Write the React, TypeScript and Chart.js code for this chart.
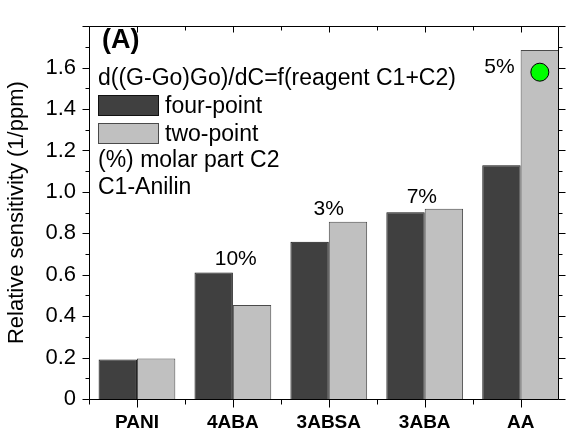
import React, { useEffect, useRef } from 'react';
import { Chart, registerables } from 'chart.js';

Chart.register(...registerables);

// ---- data ----
const categories = ['PANI', '4ABA', '3ABSA', '3ABA', 'AA'];
const categoryPos = [1, 2, 3, 4, 5];
const fourPoint = [0.191, 0.611, 0.759, 0.902, 1.129];
const twoPoint = [0.196, 0.454, 0.856, 0.918, 1.685];
const yTickValues = [0, 0.2, 0.4, 0.6, 0.8, 1.0, 1.2, 1.4, 1.6];
const yMinorValues = [0.1, 0.3, 0.5, 0.7, 0.9, 1.1, 1.3, 1.5, 1.7];
const xMinorValues = [0.5, 1.5, 2.5, 3.5, 4.5];
const pctText = ['10%', '3%', '7%', '5%'];
const pctX = [2.03, 3.0, 3.97, 4.78];
const pctY = [0.674, 0.914, 0.974, 1.601];
const markerX = [5.2];
const markerY = [1.578];
const titleText = '(A)';
const headerText = 'd((G-Go)Go)/dC=f(reagent C1+C2)';
const seriesNames = ['four-point', 'two-point'];
const noteLines = ['(%) molar part C2', 'C1-Anilin'];

const FONT = '"Liberation Sans", Arial, sans-serif';
const DARK = '#404040';
const LIGHT = '#c0c0c0';

const framePlugin = {
  id: 'frameAndText',
  afterDraw(chart: any) {
    const { ctx, chartArea: a, scales } = chart;
    const xs = scales.x;
    const ys = scales.y;
    ctx.save();
    ctx.strokeStyle = '#000';
    ctx.lineWidth = 1;
    const L = Math.round(a.left) + 0.5;
    const R = Math.round(a.right) - 0.5;
    const T = Math.round(a.top) + 0.5;
    const B = Math.round(ys.getPixelForValue(0)) + 0.5;
    ctx.beginPath();
    ctx.moveTo(L, T); ctx.lineTo(R, T); ctx.lineTo(R, B); ctx.lineTo(L, B); ctx.closePath();
    // y ticks
    const yTick = (v: number, len: number) => {
      const p = Math.round(ys.getPixelForValue(v)) + 0.5;
      ctx.moveTo(L, p); ctx.lineTo(L - len, p);
      ctx.moveTo(R, p); ctx.lineTo(R + len, p);
    };
    yTickValues.forEach(v => yTick(v, 7));
    yTick(1.8, 7);
    yMinorValues.forEach(v => yTick(v, 4));
    const xTick = (v: number, len: number, top: number) => {
      const p = Math.round(xs.getPixelForValue(v)) + 0.5;
      ctx.moveTo(p, B); ctx.lineTo(p, B + len);
      ctx.moveTo(p, T); ctx.lineTo(p, T + top);
    };
    categoryPos.forEach(v => xTick(v, 8, 6));
    xMinorValues.forEach(v => xTick(v, 5, 4));
    ctx.stroke();

    // texts
    ctx.fillStyle = '#000';
    ctx.textBaseline = 'alphabetic';
    ctx.textAlign = 'left';
    ctx.font = `bold 27px ${FONT}`;
    ctx.fillText(titleText, 102, 48);
    ctx.font = `23px ${FONT}`;
    ctx.fillText(headerText, 98, 85);
    // legend swatches
    const sw = [DARK, LIGHT];
    const swBorder = ['#111', '#4a4a4a'];
    const swTop = [95, 123];
    const baselines = [113, 141];
    for (let i = 0; i < 2; i++) {
      ctx.fillStyle = sw[i];
      ctx.fillRect(98, swTop[i], 60, 20);
      ctx.strokeStyle = swBorder[i];
      ctx.strokeRect(98.5, swTop[i] + 0.5, 60, 20);
      ctx.fillStyle = '#000';
      ctx.fillText(seriesNames[i], 165, baselines[i]);
    }
    ctx.fillText(noteLines[0], 98, 167);
    ctx.fillText(noteLines[1], 98, 194);

    // percent labels
    ctx.font = `21px ${FONT}`;
    ctx.textAlign = 'center';
    ctx.textBaseline = 'middle';
    pctText.forEach((t, i) => {
      ctx.fillText(t, xs.getPixelForValue(pctX[i]), ys.getPixelForValue(pctY[i]));
    });
    ctx.restore();
  },
};

export default function App() {
  const ref = useRef<HTMLCanvasElement | null>(null);
  useEffect(() => {
    document.body.style.margin = '0';
    const canvas = ref.current;
    if (!canvas) return;
    const chart = new Chart(canvas, {
      type: 'bar',
      data: {
        datasets: [
          {
            type: 'scatter' as any,
            label: 'marker',
            data: markerX.map((x, i) => ({ x, y: markerY[i] })),
            pointRadius: 9,
            pointBackgroundColor: '#00ff00',
            pointBorderColor: '#000',
            pointBorderWidth: 1,
            order: -1,
          } as any,
          {
            label: seriesNames[0],
            data: categoryPos.map((x, i) => ({ x, y: fourPoint[i] })),
            backgroundColor: DARK,
            borderColor: '#111',
            borderWidth: 1,
            categoryPercentage: 0.8,
            barPercentage: 1.0,
            order: 1,
          } as any,
          {
            label: seriesNames[1],
            data: categoryPos.map((x, i) => ({ x, y: twoPoint[i] })),
            backgroundColor: LIGHT,
            borderColor: '#4a4a4a',
            borderWidth: 1,
            categoryPercentage: 0.8,
            barPercentage: 1.0,
            order: 1,
          } as any,
        ],
      },
      options: {
        animation: false,
        responsive: false,
        devicePixelRatio: 1,
        layout: { padding: { top: 9, right: 5, left: 0, bottom: 0 } },
        plugins: { legend: { display: false }, tooltip: { enabled: false } },
        scales: {
          x: {
            type: 'linear',
            min: 0.5,
            max: 5.4,
            offset: false,
            grid: { display: false, drawTicks: false },
            border: { display: false },
            afterBuildTicks: (s: any) => { s.ticks = categoryPos.map(v => ({ value: v })); },
            afterFit: (s: any) => { s.height = 31; },
            ticks: {
              autoSkip: false,
              maxRotation: 0,
              padding: 12,
              color: '#000',
              font: { family: FONT, size: 19, weight: 'bold' },
              callback: (v: any) => categories[categoryPos.indexOf(Number(v))] ?? '',
            },
          },
          y: {
            min: 0,
            max: 1.8,
            grid: { display: false, drawTicks: false },
            border: { display: false },
            afterBuildTicks: (s: any) => { s.ticks = yTickValues.map(v => ({ value: v })); },
            afterFit: (s: any) => { s.width = 89; },
            ticks: {
              padding: 13,
              color: '#000',
              font: { family: FONT, size: 22 },
              callback: (v: any) => (Number(v) === 0 ? '0' : Number(v).toFixed(1)),
            },
            title: {
              display: true,
              text: 'Relative sensitivity (1/ppm)',
              color: '#000',
              font: { family: FONT, size: 22 },
              padding: { top: 4, bottom: 0 },
            },
          },
        },
      } as any,
      plugins: [framePlugin],
    });
    return () => chart.destroy();
  }, []);
  return <canvas ref={ref} width={569} height={430} style={{ display: 'block' }} />;
}
